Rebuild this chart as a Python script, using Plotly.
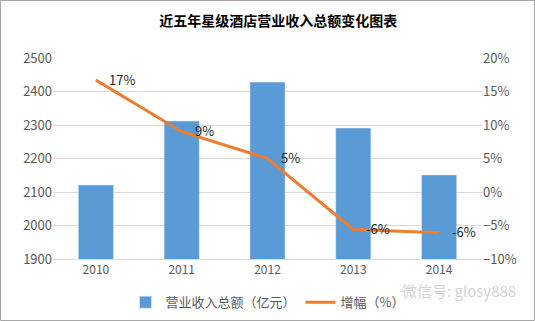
import plotly.graph_objects as go

years = ["2010", "2011", "2012", "2013", "2014"]
revenue = [2121, 2312, 2428, 2291, 2151]
growth = [16.7, 9.0, 5.0, -5.6, -6.1]
growth_labels = ["17%", "9%", "5%", "-6%", "-6%"]

font_family = "Noto Sans CJK SC, Microsoft YaHei, sans-serif"

W, H = 535, 321
ML, MR, MT, MB = 53, 53, 58, 62
PW, PH = W - ML - MR, H - MT - MB

fig = go.Figure()
fig.add_trace(go.Bar(
    x=years, y=revenue, name="营业收入总额（亿元）",
    marker=dict(color="#5B9BD5"), width=0.41, yaxis="y",
))
fig.add_trace(go.Scatter(
    x=years, y=growth, name="增幅（%）", mode="lines",
    line=dict(color="#ED7D31", width=3),
    yaxis="y2", cliponaxis=False,
))

annotations = []
for i, (g, lab) in enumerate(zip(growth, growth_labels)):
    annotations.append(dict(
        x=i, y=g, xref="x", yref="y2", text=lab, showarrow=False,
        xanchor="left", yanchor="middle", xshift=11, yshift=1,
        font=dict(size=13, color="#262626", family=font_family),
    ))
annotations.append(dict(
    text="微信号: glosy888", xref="paper", yref="paper", x=1.085, y=-0.155,
    xanchor="right", yanchor="middle", showarrow=False,
    font=dict(size=15, color="#D3D3D3", family=font_family)))

border = dict(type="rect", xref="paper", yref="paper", layer="above",
              x0=(-ML + 0.5) / PW, x1=(PW + MR - 0.5) / PW,
              y0=(-MB + 0.5) / PH, y1=(PH + MT - 0.5) / PH,
              line=dict(color="#A6A6A6", width=1))

fig.update_layout(
    width=W, height=H,
    margin=dict(l=ML, r=MR, t=MT, b=MB, autoexpand=False),
    paper_bgcolor="white", plot_bgcolor="white",
    font=dict(family=font_family, size=12, color="#595959"),
    title=dict(text="<b>近五年星级酒店营业收入总额变化图表</b>", x=0.52, xanchor="center",
               y=0.935, yanchor="middle",
               font=dict(size=14, color="#000000", family=font_family)),
    xaxis=dict(type="category", categoryorder="array", categoryarray=years,
               range=[-0.5, len(years) - 0.5], showgrid=False, showline=True,
               linecolor="#D9D9D9", ticks="", tickfont=dict(size=12, color="#595959")),
    yaxis=dict(range=[1900, 2500], dtick=100, showgrid=True, gridcolor="#D9D9D9",
               zeroline=False, ticks="", tickfont=dict(size=13, color="#595959")),
    yaxis2=dict(range=[-10, 20], dtick=5, overlaying="y", side="right", showgrid=False,
                zeroline=False, ticksuffix="%", ticks="",
                tickfont=dict(size=13, color="#595959")),
    legend=dict(orientation="h", x=0.5, xanchor="center", y=-0.215, yanchor="middle",
                font=dict(size=13, color="#595959")),
    bargap=0.59,
    annotations=annotations,
    shapes=[border],
)

fig.write_html("out.html")
